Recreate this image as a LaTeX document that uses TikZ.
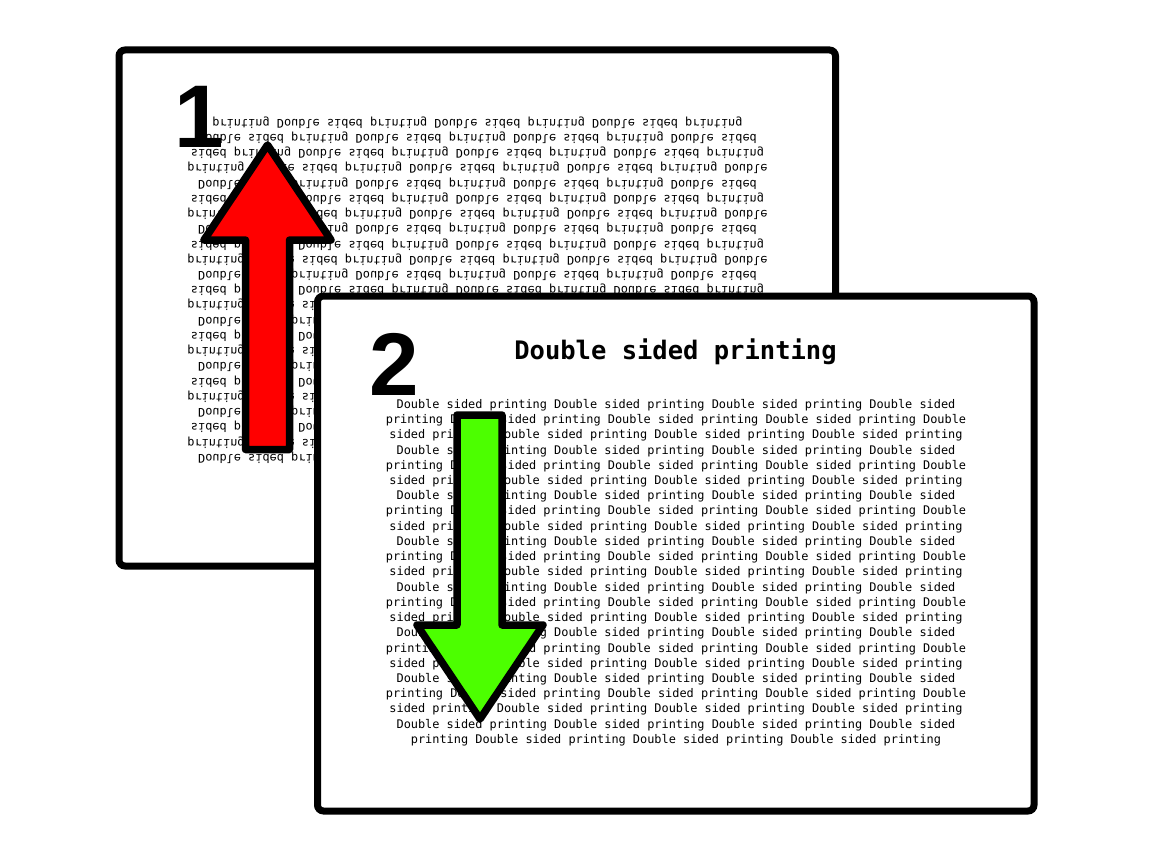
\documentclass[tikz,border=0pt]{standalone}
\usepackage{fontspec}
\newfontfamily\dmono{DejaVu Sans Mono}
\newfontfamily\bignum{Liberation Sans}
\definecolor{arrowred}{RGB}{255,0,0}
\definecolor{arrowgreen}{RGB}{76,255,0}
\newcommand\pgLA{Double sided printing Double sided printing Double sided printing Double sided}
\newcommand\pgLB{printing Double sided printing Double sided printing Double sided printing Double}
\newcommand\pgLC{sided printing Double sided printing Double sided printing Double sided printing}
\newcommand\pgLD{printing Double sided printing Double sided printing Double sided printing}
\newcommand\pgCyc{\pgLA\\\pgLB\\\pgLC\\}
\newcommand\pgBody{\pgCyc\pgCyc\pgCyc\pgCyc\pgCyc\pgCyc\pgCyc\pgLA\\\pgLD}
\tikzset{
  sheet/.style={draw=black, fill=white, line width=7pt, rounded corners=6pt},
  bodytext/.style={align=center, inner sep=0pt, font=\dmono\fontsize{11.9}{15.23}\selectfont},
  titletext/.style={inner sep=0pt, font=\dmono\bfseries\fontsize{25.5}{30}\selectfont},
  numtext/.style={inner sep=0pt, anchor=base west, font=\bignum\bfseries\fontsize{89}{100}\selectfont},
  bigarrow/.style={draw=black, line width=7.5pt, line join=round},
}
\begin{document}
\begin{tikzpicture}[x=1pt, y=-1pt]
\useasboundingbox (0,0) rectangle (1152,864);
% page 1 (back side seen through)
\draw[sheet] (119,50) rectangle (835.5,566);
\node[bodytext, yscale=-1] (backtext) at (477.5,290) {\pgBody};
\node[numtext] (one) at (174,148) {1};
\draw[bigarrow, fill=arrowred] (245.5,449.5) -- (245.5,240) -- (204,240) -- (267.5,145) -- (331,240) -- (289.5,240) -- (289.5,449.5) -- cycle;
% page 2
\draw[sheet] (317.5,296) rectangle (1034,811);
\node[numtext] (two) at (369,395) {2};
\node[titletext] (title) at (675.5,352) {Double sided printing};
\node[bodytext] (fronttext) at (676,572.6) {\pgBody};
\draw[bigarrow, fill=arrowgreen] (457,415) -- (502,415) -- (502,625) -- (543,625) -- (480,719) -- (417,625) -- (457,625) -- cycle;
\end{tikzpicture}
\end{document}
